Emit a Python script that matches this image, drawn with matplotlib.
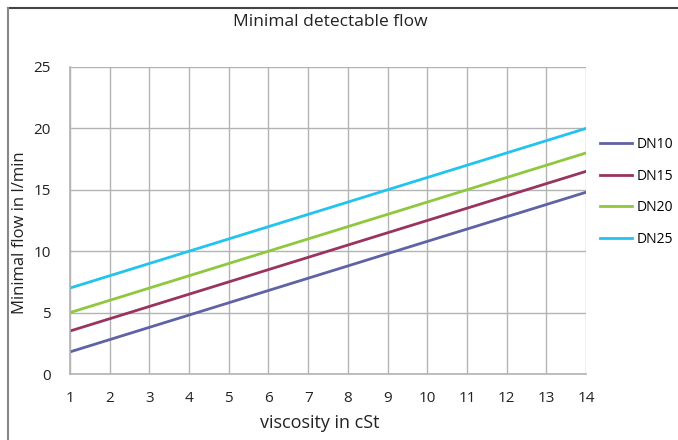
import matplotlib.pyplot as plt
from matplotlib.lines import Line2D

plt.rcParams['font.family'] = ['Open Sans', 'DejaVu Sans']

# data
viscosity = list(range(1, 15))
dn10 = [1.8, 2.8, 3.8, 4.8, 5.8, 6.8, 7.8, 8.8, 9.8, 10.8, 11.8, 12.8, 13.8, 14.8]
dn15 = [3.5, 4.5, 5.5, 6.5, 7.5, 8.5, 9.5, 10.5, 11.5, 12.5, 13.5, 14.5, 15.5, 16.5]
dn20 = [5, 6, 7, 8, 9, 10, 11, 12, 13, 14, 15, 16, 17, 18]
dn25 = [7, 8, 9, 10, 11, 12, 13, 14, 15, 16, 17, 18, 19, 20]
labels = ['DN10', 'DN15', 'DN20', 'DN25']
colors = ['#5f62a5', '#993360', '#8fc73e', '#22c3ee']

fig = plt.figure(figsize=(6.78, 4.4), dpi=100)
ax = fig.add_axes([70/678, 66/440, 516/678, 307/440])

for vals, lab, c in zip([dn10, dn15, dn20, dn25], labels, colors):
    ax.plot(viscosity, vals, color=c, lw=2, label=lab)

ax.set_xlim(1, 14)
ax.set_ylim(0, 25)
ax.set_xticks(viscosity)
ax.set_yticks([0, 5, 10, 15, 20, 25])
ax.grid(True, color='#b3b3b3', lw=1)
ax.set_axisbelow(True)
for s in ['top', 'right']:
    ax.spines[s].set_visible(False)
for s in ['left', 'bottom']:
    ax.spines[s].set_color('#b3b3b3')
    ax.spines[s].set_linewidth(1.2)
ax.tick_params(length=0, labelsize=11, colors='#222222')
ax.tick_params(axis='x', pad=12)
ax.tick_params(axis='y', pad=14)

ax.set_xlabel('viscosity in cSt', fontsize=13, color='#222222')
ax.xaxis.set_label_coords(0.4845, -0.13)
ax.set_ylabel('Minimal flow in l/min', fontsize=12, color='#222222')
ax.yaxis.set_label_coords(-0.081, 0.46)
fig.text(330/678, 1 - 22/440, 'Minimal detectable flow', ha='center', va='center',
         fontsize=12.5, color='#222222')

ax.legend(loc='upper left', bbox_to_anchor=(1.017, 0.79), frameon=False,
          fontsize=10, handlelength=2.3, handletextpad=0.3, labelspacing=1.2,
          borderaxespad=0)

# frame lines top and left
fig.add_artist(Line2D([8/678, 1], [1 - 8/440, 1 - 8/440], color='#444444', lw=1.5))
fig.add_artist(Line2D([8/678, 8/678], [0, 1 - 8/440], color='#888888', lw=1.5))

fig.savefig('out.png', dpi=100)
